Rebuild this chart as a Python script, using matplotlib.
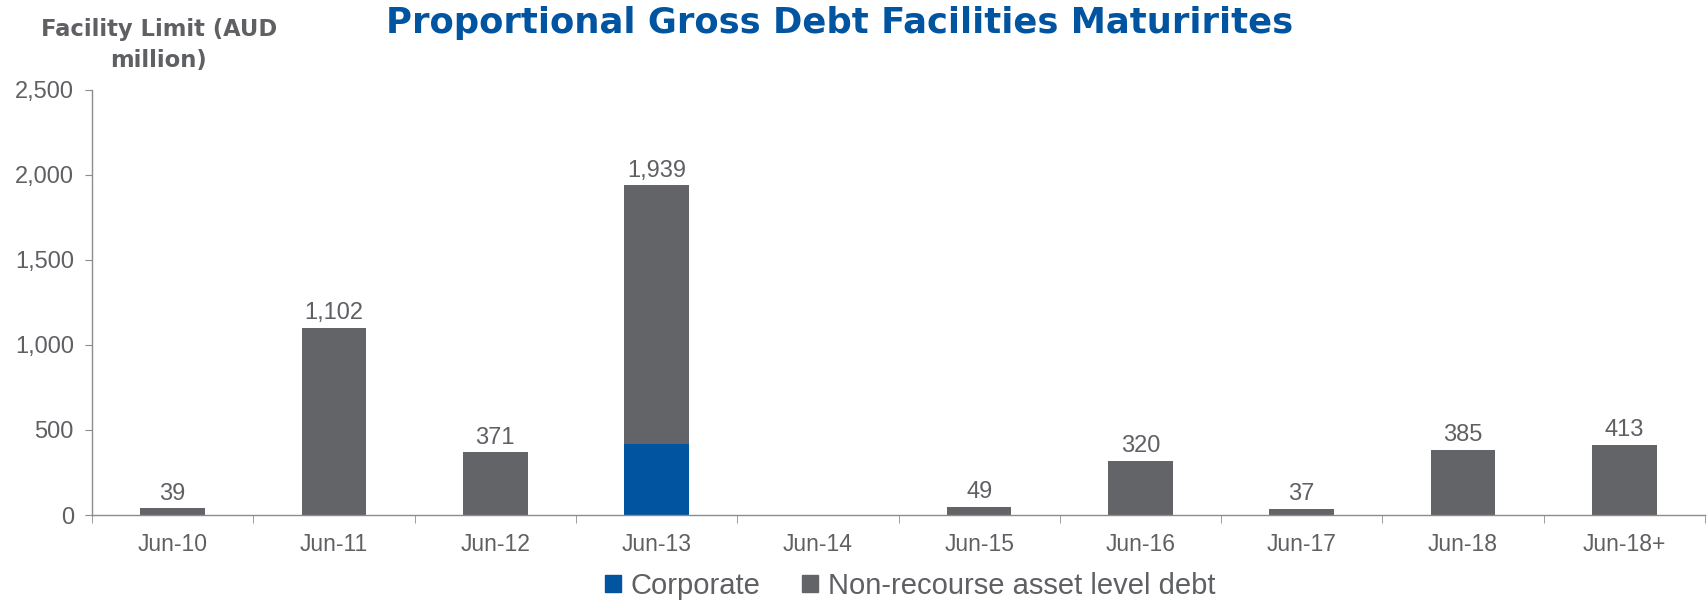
import matplotlib
matplotlib.use("Agg")
import matplotlib.pyplot as plt
from matplotlib.ticker import FuncFormatter, FixedLocator
from matplotlib.patches import Patch
import numpy as np

categories = ["Jun-10", "Jun-11", "Jun-12", "Jun-13", "Jun-14",
              "Jun-15", "Jun-16", "Jun-17", "Jun-18", "Jun-18+"]
corporate = [0, 0, 0, 420, 0, 0, 0, 0, 0, 0]
non_recourse = [39, 1102, 371, 1519, 0, 49, 320, 37, 385, 413]
totals = [39, 1102, 371, 1939, 0, 49, 320, 37, 385, 413]

BLUE = "#0054a0"
GREY = "#636468"
TEXT = "#5f6064"
AXIS = "#8c8c8c"

plt.rcParams["font.family"] = ["Liberation Sans", "DejaVu Sans"]

fig = plt.figure(figsize=(17.07, 6.0), dpi=100)
ax = fig.add_axes([92 / 1707, 1 - 515 / 600, (1705 - 92) / 1707, (515 - 90) / 600])

x = np.arange(len(categories))
w = 0.40
ax.bar(x, corporate, w, color=BLUE, label="Corporate", zorder=2)
ax.bar(x, non_recourse, w, bottom=corporate, color=GREY,
       label="Non-recourse asset level debt", zorder=2)

for xi, t in zip(x, totals):
    if t > 0:
        ax.text(xi, t + 20, f"{t:,}", ha="center", va="bottom",
                fontsize=17, color=TEXT)

ax.set_xlim(-0.5, len(categories) - 0.5)
ax.set_ylim(0, 2500)
ax.yaxis.set_major_locator(FixedLocator([0, 500, 1000, 1500, 2000, 2500]))
ax.yaxis.set_major_formatter(FuncFormatter(lambda v, p: f"{int(v):,}"))

ax.set_xticks(x)
ax.set_xticklabels(categories)
ax.set_xticks(np.arange(-0.5, len(categories)), minor=True)
ax.tick_params(axis="x", which="major", length=0, pad=13,
               labelsize=16.5, labelcolor=TEXT)
ax.tick_params(axis="x", which="minor", length=6, color=AXIS, direction="out")
ax.tick_params(axis="y", length=5, color=AXIS, labelsize=17,
               labelcolor=TEXT, pad=8)

for s in ("top", "right"):
    ax.spines[s].set_visible(False)
for s in ("left", "bottom"):
    ax.spines[s].set_color(AXIS)
    ax.spines[s].set_linewidth(1.0)

fig.text(840 / 1707, 1 - 23 / 600, "Proportional Gross Debt Facilities Maturirites",
         ha="center", va="center", fontsize=25.5, fontweight="bold",
         color=BLUE, family=["DejaVu Sans"])
fig.text(159 / 1707, 1 - 45 / 600, "Facility Limit (AUD\nmillion)",
         ha="center", va="center", fontsize=16.3, fontweight="bold",
         color=TEXT, family=["DejaVu Sans"], linespacing=1.45)

handles = [Patch(color=BLUE, label="Corporate"),
           Patch(color=GREY, label="Non-recourse asset level debt")]
leg = fig.legend(handles=handles, loc="center", bbox_to_anchor=(910 / 1707, 1 - 586 / 600),
                 ncol=2, frameon=False, fontsize=21, handlelength=0.55,
                 handleheight=0.55, handletextpad=0.35, columnspacing=1.4)
for t in leg.get_texts():
    t.set_color(TEXT)

fig.savefig("out.png", dpi=100)
